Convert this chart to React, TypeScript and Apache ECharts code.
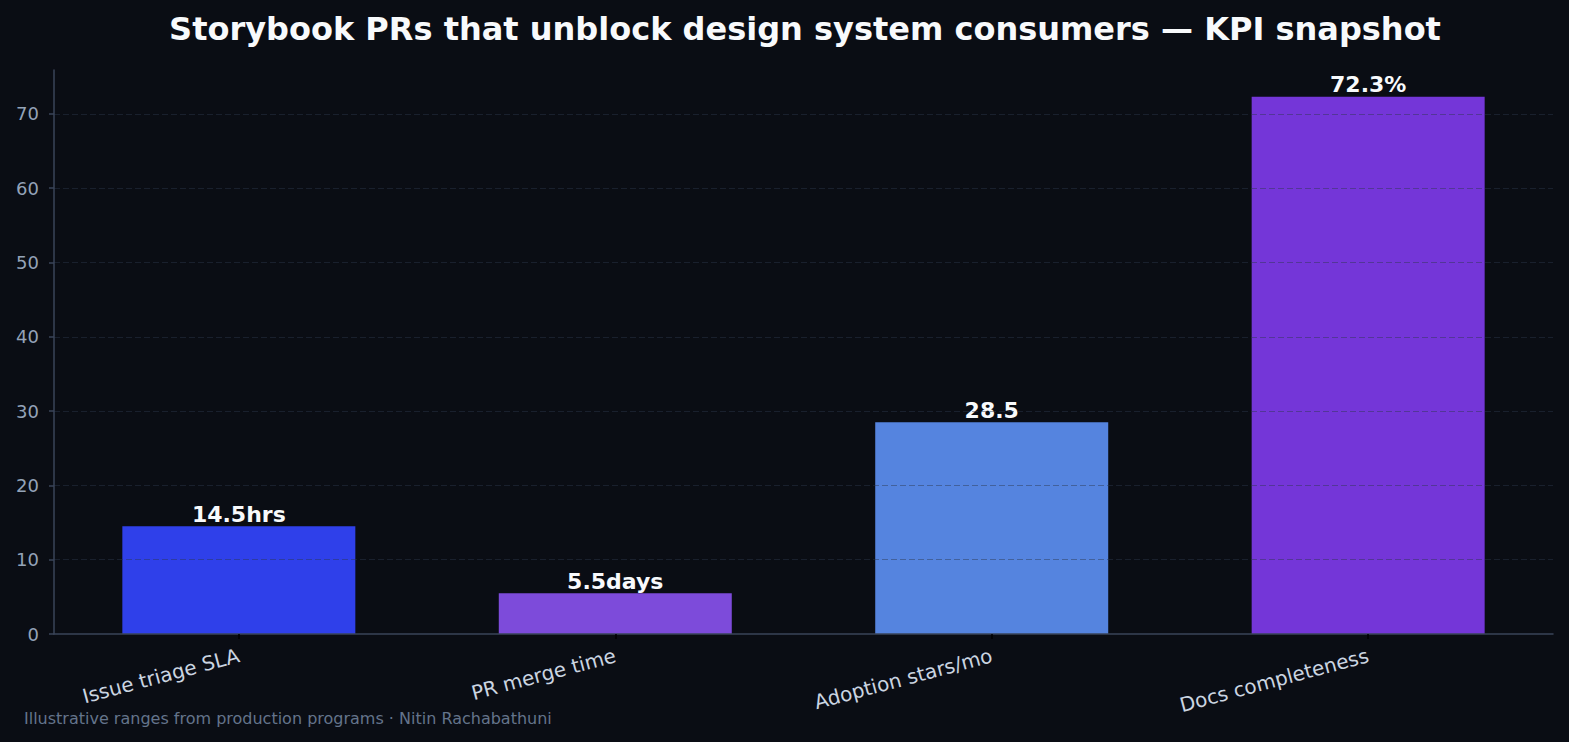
import React, { useEffect, useRef } from "react";
import * as echarts from "echarts";

const titleText = "Storybook PRs that unblock design system consumers — KPI snapshot";
const footerText = "Illustrative ranges from production programs · Nitin Rachabathuni";
const categories = ["Issue triage SLA", "PR merge time", "Adoption stars/mo", "Docs completeness"];
const values = [14.5, 5.5, 28.5, 72.3];
const units = ["hrs", "days", "", "%"];
const barColors = ["#2f40ea", "#7d4bda", "#5584df", "#7436d8"];
const yTicks = [0, 10, 20, 30, 40, 50, 60, 70];
const yMax = 75.915;
const xPositions = [0, 1, 2, 3];
const xMin = -0.491;
const xMax = 3.491;

export default function App() {
  const ref = useRef<HTMLDivElement>(null);
  useEffect(() => {
    if (!ref.current) return;
    const chart = echarts.init(ref.current, null, { renderer: "svg" });
    const font = "DejaVu Sans";
    chart.setOption({
      animation: false,
      backgroundColor: "#0a0d14",
      textStyle: { fontFamily: font },
      title: {
        text: titleText,
        left: 800,
        textAlign: "center",
        top: 8,
        textStyle: { color: "#f8fafc", fontSize: 32, fontWeight: "bold", fontFamily: font },
      },
      graphic: [
        {
          type: "text",
          left: 24,
          top: 710,
          style: { text: footerText, fill: "#64748b", fontSize: 16, fontFamily: font },
        },
      ],
      grid: { left: 54, right: 16, top: 70, bottom: 108, containLabel: false },
      xAxis: {
        type: "value",
        min: xMin,
        max: xMax,
        z: 3,
        axisLine: { show: true, onZero: false, lineStyle: { color: "#3a4458", width: 1.5 } },
        axisTick: { show: true, customValues: xPositions, length: 5, lineStyle: { color: "#000000", width: 1.5 } },
        axisLabel: {
          customValues: xPositions,
          formatter: (v: number) => categories[Math.round(v)] ?? "",
          rotate: 15,
          margin: 21,
          color: "#cbd5e1",
          fontSize: 20,
          fontFamily: font,
        },
        splitLine: { show: false },
      },
      yAxis: {
        type: "value",
        min: 0,
        max: yMax,
        interval: 10,
        z: 3,
        axisLine: { show: true, onZero: false, lineStyle: { color: "#3a4458", width: 1.5 } },
        axisTick: { show: true, length: 5, customValues: yTicks, lineStyle: { color: "#3a4458", width: 1.5 } },
        axisLabel: {
          customValues: yTicks,
          margin: 15,
          color: "#94a3b8",
          fontSize: 18,
          fontFamily: font,
        },
        splitLine: {
          show: true,
          showMinLine: false,
          lineStyle: { color: "rgba(45,55,75,0.45)", width: 1.2, type: [6, 3] },
        },
      },
      series: [
        {
          type: "bar",
          barWidth: 233,
          data: values.map((v, i) => ({ value: [xPositions[i], v], itemStyle: { color: barColors[i] } })),
          label: {
            show: true,
            position: "top",
            distance: 1,
            color: "#f8fafc",
            fontSize: 22,
            fontWeight: "bold",
            fontFamily: font,
            formatter: (p: any) => `${values[p.dataIndex]}${units[p.dataIndex]}`,
          },
        },
      ],
    });
    return () => chart.dispose();
  }, []);
  return (
    <div
      ref={ref}
      style={{ position: "fixed", left: 0, top: 0, width: 1569, height: 742 }}
    />
  );
}
